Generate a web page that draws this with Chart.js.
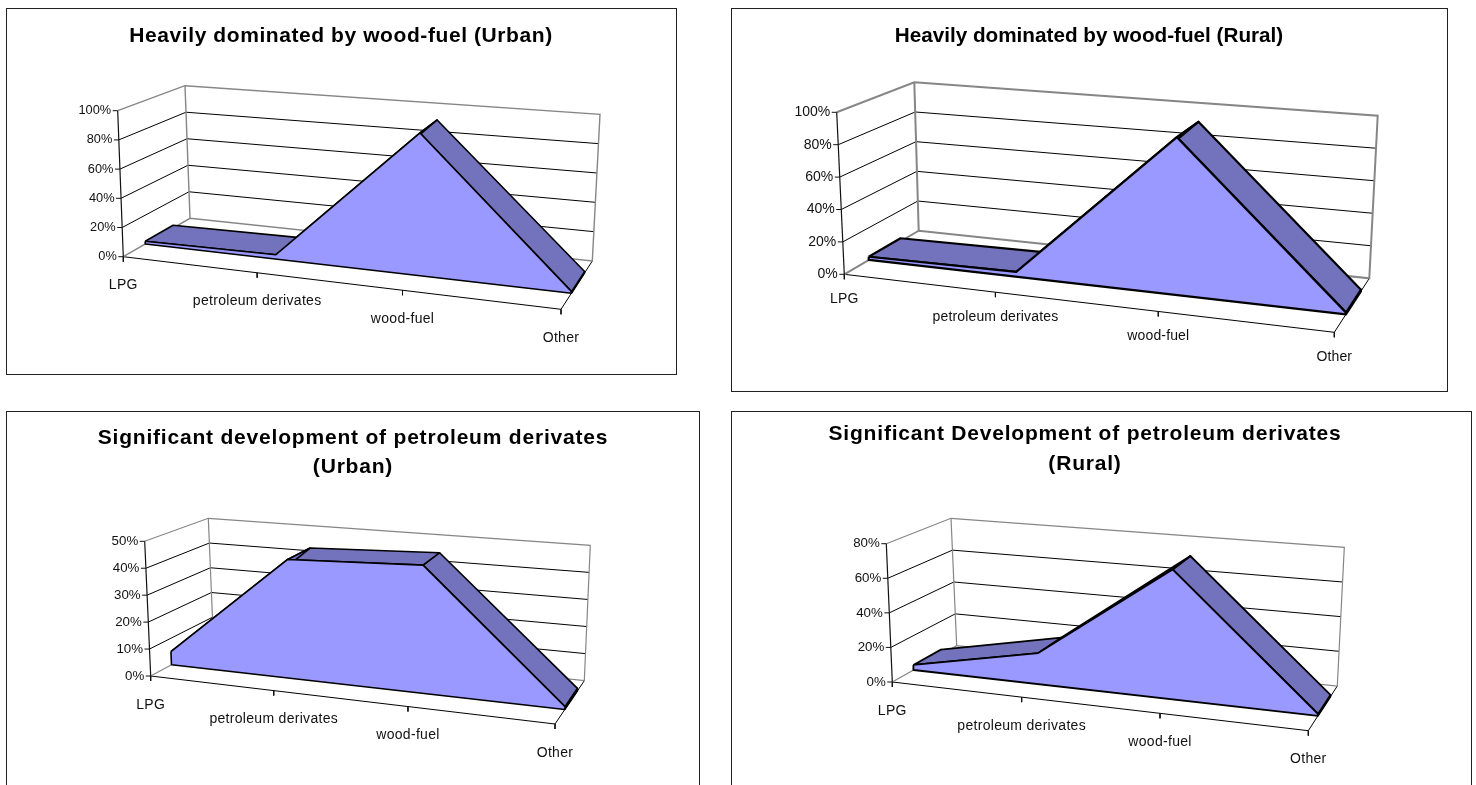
<!DOCTYPE html>
<html>
<head>
<meta charset="utf-8">
<title>Fuel use by type</title>
<script src="https://cdn.jsdelivr.net/npm/chart.js@4"></script>
<style>
    html, body { margin: 0; background: #fff; overflow: hidden; width: 1476px; height: 785px; }
    .box { position: absolute; border: 1px solid #222; box-sizing: border-box; }
    canvas { position: absolute; }
</style>
</head>
<body>
<div class="box" style="left:6px;top:8px;width:671px;height:367px"></div>
<div class="box" style="left:731px;top:8px;width:717px;height:384px"></div>
<div class="box" style="left:6px;top:411px;width:694px;height:400px"></div>
<div class="box" style="left:731px;top:411px;width:741px;height:400px"></div>
<canvas id="chart1" style="left:6px;top:8px" width="670" height="366"></canvas>
<canvas id="chart2" style="left:731px;top:8px" width="716" height="383"></canvas>
<canvas id="chart3" style="left:6px;top:411px" width="694" height="374"></canvas>
<canvas id="chart4" style="left:731px;top:411px" width="708" height="374"></canvas>
<script>
// Data
const categories = ['LPG', 'petroleum derivates', 'wood-fuel', 'Other'];

const urbanWood = [2, 3, 94, 1];
const ruralWood = [2, 3, 94, 1];
const urbanPetroleum = [5, 44, 46, 1];
const ruralPetroleum = [3, 18, 73, 1];

const urbanWoodTicks = [0, 20, 40, 60, 80, 100];
const ruralWoodTicks = [0, 20, 40, 60, 80, 100];
const urbanPetroleumTicks = [0, 10, 20, 30, 40, 50];
const ruralPetroleumTicks = [0, 20, 40, 60, 80];

const urbanWoodTitle = 'Heavily dominated by wood-fuel (Urban)';
const ruralWoodTitle = 'Heavily dominated by wood-fuel (Rural)';
const urbanPetroleumTitle = ['Significant development of petroleum derivates', '(Urban)'];
const ruralPetroleumTitle = ['Significant Development of petroleum derivates', '(Rural)'];

const AREA_COLOR = '#9999FF';
const TOP_COLOR = '#7373BD';
const FRAME_COLOR = '#868686';

// Maps the unit square (u along the categories, d into the depth) onto a quad
function homography(q) {
    const [p00, p10, p11, p01] = q;
    const sx = p00[0] - p10[0] + p11[0] - p01[0];
    const sy = p00[1] - p10[1] + p11[1] - p01[1];
    const d1x = p10[0] - p11[0], d1y = p10[1] - p11[1];
    const d2x = p01[0] - p11[0], d2y = p01[1] - p11[1];
    const det = d1x * d2y - d1y * d2x;
    const g = (sx * d2y - sy * d2x) / det;
    const h = (d1x * sy - d1y * sx) / det;
    return (u, d) => {
        const w = g * u + h * d + 1;
        return [
            (p00[0] + (p10[0] - p00[0] + g * p10[0]) * u + (p01[0] - p00[0] + h * p01[0]) * d) / w,
            (p00[1] + (p10[1] - p00[1] + g * p10[1]) * u + (p01[1] - p00[1] + h * p01[1]) * d) / w
        ];
    };
}

function makeChart(cfg) {
    const canvas = document.getElementById(cfg.id);
    const left = parseInt(canvas.style.left), top = parseInt(canvas.style.top);
    const lines = Array.isArray(cfg.title) ? cfg.title.length : 1;
    const titleHeight = cfg.titleTop + lines * cfg.titleLine;

    const floor = homography(cfg.floor);
    const roof = homography(cfg.roof);
    const axisMax = cfg.ticks[cfg.ticks.length - 1];

    // value in the chart's 3d box -> page position, used as scale value
    function project(u, d, v) {
        const a = floor(u, d), b = roof(u, d), t = v / axisMax;
        return { x: a[0] + (b[0] - a[0]) * t, y: a[1] + (b[1] - a[1]) * t };
    }

    const painted = [];
    function addLine(points, color, width) {
        painted.push({ data: points, showLine: true, borderColor: color, borderWidth: width, pointRadius: 0, fill: false, clip: false });
    }
    function addFace(points, color, width) {
        painted.push({
            data: points.concat([points[0]]), showLine: true, backgroundColor: color, borderColor: '#000',
            borderWidth: width, borderJoinStyle: 'round', pointRadius: 0, fill: 'shape', clip: false
        });
    }

    // floor
    addLine([project(0, 0, 0), project(1, 0, 0), project(1, 1, 0)], '#000', 1);
    // gridlines on the two walls
    cfg.ticks.slice(1, -1).forEach(v => {
        addLine([project(0, 0, v), project(0, 1, v), project(1, 1, v)], '#000', 1);
    });
    // grey frame of the walls
    addLine([project(0, 0, 0), project(0, 1, 0), project(1, 1, 0), project(1, 1, axisMax),
        project(0, 1, axisMax), project(0, 0, axisMax)], FRAME_COLOR, cfg.frame);
    addLine([project(0, 1, 0), project(0, 1, axisMax)], FRAME_COLOR, cfg.frame);
    // front vertical axis
    addLine([project(0, 0, 0), project(0, 0, axisMax)], '#111', 1.2);

    // the area: end face, top faces from back to front, then the front face
    const n = cfg.values.length;
    const uOf = i => i / (n - 1);
    addFace([project(1, cfg.depth[0], 0), project(1, cfg.depth[1], 0),
        project(1, cfg.depth[1], cfg.values[n - 1]), project(1, cfg.depth[0], cfg.values[n - 1])], TOP_COLOR, cfg.stroke);
    for (let i = n - 2; i >= 0; i--) {
        addFace([
            project(uOf(i), cfg.depth[0], cfg.values[i]),
            project(uOf(i + 1), cfg.depth[0], cfg.values[i + 1]),
            project(uOf(i + 1), cfg.depth[1], cfg.values[i + 1]),
            project(uOf(i), cfg.depth[1], cfg.values[i])
        ], TOP_COLOR, cfg.stroke);
    }
    const front = cfg.values.map((v, i) => project(uOf(i), cfg.depth[0], v));
    front.push(project(1, cfg.depth[0], 0), project(0, cfg.depth[0], 0));
    addFace(front, AREA_COLOR, cfg.stroke);

    // tick marks
    cfg.ticks.forEach(v => {
        const p = project(0, 0, v);
        addLine([{ x: p.x - 5, y: p.y }, p], '#111', 1);
    });
    categories.forEach((c, i) => {
        const p = project(uOf(i), 0, 0);
        addLine([p, { x: p.x, y: p.y + 5 }], '#111', 1);
    });

    // the title spacing has to be set on the context once the canvas is sized
    const titleSpacing = {
        id: 'titleSpacing',
        beforeDraw(chart) {
            chart.ctx.letterSpacing = cfg.titleSpacing + 'px';
        }
    };

    // text of the projected axes
    const axisText = {
        id: 'axisText',
        afterDraw(chart) {
            const { ctx, scales: { x, y } } = chart;
            ctx.save();
            ctx.fillStyle = '#111';
            ctx.textBaseline = 'middle';
            ctx.letterSpacing = '0px';
            ctx.font = cfg.yFont + 'px "Liberation Sans", Arial, sans-serif';
            ctx.textAlign = 'right';
            cfg.ticks.forEach(v => {
                const p = project(0, 0, v);
                ctx.fillText(v + '%', x.getPixelForValue(p.x - 6.5), y.getPixelForValue(p.y));
            });
            ctx.font = '14px "Liberation Sans", Arial, sans-serif';
            ctx.letterSpacing = cfg.xSpacing + 'px';
            ctx.textAlign = 'center';
            categories.forEach((c, i) => {
                const p = project(uOf(i), 0, 0);
                ctx.fillText(c, x.getPixelForValue(p.x), y.getPixelForValue(p.y + cfg.labelGap));
            });
            ctx.restore();
        }
    };

    return new Chart(canvas, {
        type: 'scatter',
        data: { datasets: painted.reverse() },
        plugins: [titleSpacing, axisText],
        options: {
            responsive: false,
            animation: false,
            events: [],
            layout: { padding: 0 },
            scales: {
                x: { type: 'linear', display: false, min: left, max: left + canvas.width },
                y: { type: 'linear', display: false, reverse: true, min: top + titleHeight, max: top + canvas.height }
            },
            plugins: {
                legend: { display: false },
                tooltip: { enabled: false },
                filler: { drawTime: 'beforeDatasetDraw' },
                title: {
                    display: true,
                    text: cfg.title,
                    color: '#000',
                    font: { family: '"Liberation Sans", Arial, sans-serif', size: cfg.titleSize, weight: 'bold', lineHeight: cfg.titleLine / cfg.titleSize },
                    padding: { top: cfg.titleTop, bottom: 0 }
                }
            }
        }
    });
}

makeChart({
    id: 'chart1', title: urbanWoodTitle, values: urbanWood, ticks: urbanWoodTicks,
    floor: [[123.3, 256.7], [561, 309.3], [592.3, 261], [190, 218.3]],
    roof: [[117.7, 110.7], [578, 148], [600, 114.3], [185, 85.7]],
    depth: [0.31, 0.73], stroke: 1.6, frame: 1.4, yFont: 12.8, xSpacing: 0.3, labelGap: 28.5,
    titleSize: 21, titleSpacing: 0.58, titleLine: 24, titleTop: 16
});
makeChart({
    id: 'chart2', title: ruralWoodTitle, values: ruralWood, ticks: ruralWoodTicks,
    floor: [[844.3, 274.3], [1334.3, 332.3], [1369.3, 278.3], [918.7, 230.7]],
    roof: [[836.7, 112.3], [1345, 154], [1377.7, 115.7], [914.3, 82.3]],
    depth: [0.31, 0.74], stroke: 2.2, frame: 2, yFont: 14, xSpacing: 0.15, labelGap: 25,
    titleSize: 20.7, titleSpacing: 0, titleLine: 24, titleTop: 16
});
makeChart({
    id: 'chart3', title: urbanPetroleumTitle, values: urbanPetroleum, ticks: urbanPetroleumTicks,
    floor: [[150.7, 676], [555, 724], [584.3, 680.7], [213.5, 642]],
    roof: [[144.7, 541.3], [570, 577], [590.3, 545.3], [208.3, 518.3]],
    depth: [0.31, 0.74], stroke: 1.6, frame: 1.2, yFont: 13.3, xSpacing: 0.3, labelGap: 29,
    titleSize: 21, titleSpacing: 0.8, titleLine: 29, titleTop: 13
});
makeChart({
    id: 'chart4', title: ruralPetroleumTitle, values: ruralPetroleum, ticks: ruralPetroleumTicks,
    floor: [[892.3, 682], [1308.3, 730.7], [1337.3, 686], [956.7, 645.7]],
    roof: [[886.3, 543.7], [1319, 581], [1344.3, 547.3], [951, 518.3]],
    depth: [0.31, 0.74], stroke: 1.8, frame: 1.2, yFont: 13.3, xSpacing: 0.3, labelGap: 28.7,
    titleSize: 21, titleSpacing: 0.8, titleLine: 30, titleTop: 8
});
</script>
</body>
</html>
